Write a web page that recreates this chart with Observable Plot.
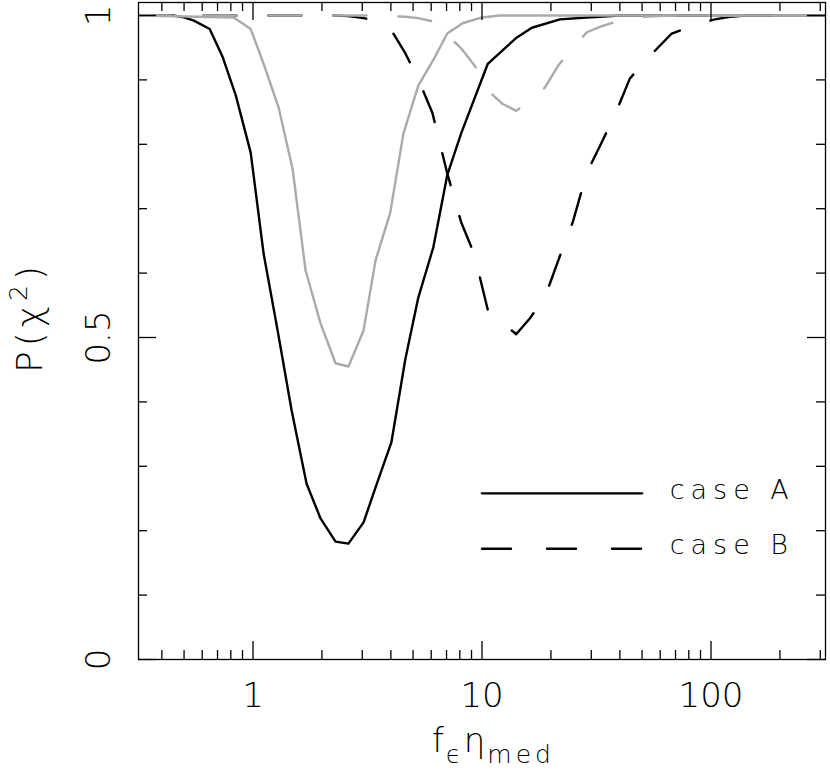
<!DOCTYPE html>
<html><head><meta charset="utf-8">
<script src="https://cdn.jsdelivr.net/npm/d3@7"></script>
<script src="https://cdn.jsdelivr.net/npm/@observablehq/plot@0.6"></script>
<style>body{margin:0;background:#fff}#chart{width:830px;height:772px}</style>
</head><body><div id="chart"></div>
<script>
// ---- data ----
const caseABlackX = [0.316, 0.447, 0.499, 0.552, 0.647, 0.738, 0.841, 0.977, 1.113, 1.281, 1.474, 1.714, 1.972, 2.293, 2.61, 3.04, 3.49, 4.02, 4.63, 5.27, 6.13, 7.05, 8.11, 10.6, 14.2, 16.5, 21.9, 28.7, 40, 316];
const caseABlackY = [1, 1, 0.997, 0.992, 0.979, 0.935, 0.876, 0.787, 0.630, 0.511, 0.387, 0.273, 0.219, 0.183, 0.180, 0.213, 0.275, 0.337, 0.467, 0.562, 0.640, 0.752, 0.817, 0.925, 0.966, 0.981, 0.994, 0.997, 1, 1];

const caseAGrayX = [0.316, 0.824, 0.977, 1.113, 1.294, 1.489, 1.697, 1.972, 2.293, 2.61, 3.04, 3.43, 3.97, 4.54, 5.27, 6.13, 7.05, 8.22, 10.0, 12.0, 316];
const caseAGrayY = [1, 0.997, 0.979, 0.925, 0.857, 0.762, 0.604, 0.522, 0.460, 0.455, 0.511, 0.620, 0.693, 0.817, 0.891, 0.931, 0.972, 0.988, 0.997, 1, 1];

const caseBBlackX = [0.316, 2.247, 2.61, 3.04, 3.49, 4.02, 4.63, 5.27, 6.07, 7.05, 8.11, 9.24, 10.6, 14.1, 16.2, 18.8, 21.7, 24.9, 28.7, 33.1, 38.1, 44.2, 50.9, 58.6, 67.4, 77.6, 89.3, 104, 121, 145, 316];
const caseBBlackY = [1, 1, 0.999, 0.996, 0.991, 0.977, 0.941, 0.901, 0.849, 0.755, 0.679, 0.630, 0.543, 0.505, 0.530, 0.562, 0.623, 0.679, 0.756, 0.801, 0.846, 0.902, 0.927, 0.950, 0.972, 0.980, 0.988, 0.994, 0.998, 1, 1];

const caseBGrayX = [0.316, 3.49, 4.63, 5.27, 6.07, 7.05, 8.11, 9.34, 10.6, 12.25, 14.1, 16.2, 18.8, 21.7, 24.9, 28.7, 33.1, 38.1, 44.2, 50.9, 58.6, 67.4, 316];
const caseBGrayY = [1, 1, 0.998, 0.996, 0.991, 0.970, 0.949, 0.921, 0.884, 0.863, 0.852, 0.867, 0.888, 0.924, 0.949, 0.974, 0.983, 0.990, 0.995, 0.998, 0.999, 1, 1];

const xMajorTicks = [1, 10, 100];
const xTickLabels = ["1", "10", "100"];
const xMinorTicks = [0.4, 0.5, 0.6, 0.7, 0.8, 0.9, 2, 3, 4, 5, 6, 7, 8, 9, 20, 30, 40, 50, 60, 70, 80, 90, 200, 300];
const yMajorTicks = [0, 0.5, 1];
const yTickLabels = ["0", "0.5", "1"];
const yMinorTicks = [0.1, 0.2, 0.3, 0.4, 0.6, 0.7, 0.8, 0.9];

const legendLabels = ["case A", "case B"];
const legendY = [0.258, 0.172];
const legendLineX = [10, 50];
const legendTextX = 66;

// ---- build ----
const W = 830, H = 772, mL = 138, mR = 5, mT = 2, mB = 113;
const iW = W - mL - mR, iH = H - mT - mB;
const GRAY = "#aaaaaa", DASH = "33,32", LW = 2.4;
const FONT = "DejaVu Sans";

const toRows = (xs, ys) => xs.map((x, i) => ({x, y: ys[i]}));
const seriesA = toRows(caseABlackX, caseABlackY);
const seriesAg = toRows(caseAGrayX, caseAGrayY);
const seriesB = toRows(caseBBlackX, caseBBlackY);
const seriesBg = toRows(caseBGrayX, caseBGrayY);
const legendA = legendLineX.map(x => ({x, y: legendY[0]}));
const legendB = legendLineX.map(x => ({x, y: legendY[1]}));

const tickStyle = {stroke: "#000", strokeWidth: 1.3};
const chart = Plot.plot({
  width: W, height: H,
  marginLeft: mL, marginRight: mR, marginTop: mT, marginBottom: mB,
  x: {type: "log", domain: [10 ** -0.5, 10 ** 2.5], axis: null},
  y: {domain: [0, iH / 644], axis: null},
  style: {fontFamily: FONT, background: "white", color: "#000"},
  marks: [
    // curves (black first, grey drawn on top)
    Plot.line(seriesA, {x: "x", y: "y", stroke: "#000", strokeWidth: LW, clip: true}),
    Plot.line(seriesB, {x: "x", y: "y", stroke: "#000", strokeWidth: LW, strokeDasharray: DASH, clip: true}),
    Plot.line(seriesAg, {x: "x", y: "y", stroke: GRAY, strokeWidth: LW, clip: true}),
    Plot.line(seriesBg, {x: "x", y: "y", stroke: GRAY, strokeWidth: LW, strokeDasharray: DASH, clip: true}),
    // inward ticks
    Plot.tickX(xMinorTicks, {x: d => d, insetTop: iH - 9, ...tickStyle}),
    Plot.tickX(xMajorTicks, {x: d => d, insetTop: iH - 18, ...tickStyle}),
    Plot.tickX(xMinorTicks, {x: d => d, insetBottom: iH - 9, ...tickStyle}),
    Plot.tickX(xMajorTicks, {x: d => d, insetBottom: iH - 18, ...tickStyle}),
    Plot.tickY(yMinorTicks, {y: d => d, insetRight: iW - 9, ...tickStyle}),
    Plot.tickY(yMajorTicks, {y: d => d, insetRight: iW - 18, ...tickStyle}),
    Plot.tickY(yMinorTicks, {y: d => d, insetLeft: iW - 9, ...tickStyle}),
    Plot.tickY(yMajorTicks, {y: d => d, insetLeft: iW - 18, ...tickStyle}),
    Plot.frame({stroke: "#000", strokeWidth: 1.3}),
    // tick labels
    Plot.text(xMajorTicks, {x: d => d, frameAnchor: "bottom", dy: 37, text: (d, i) => xTickLabels[i],
      lineAnchor: "middle", textAnchor: "middle", fontSize: 34, fontWeight: 200, fill: "#000"}),
    Plot.text(yMajorTicks, {y: d => d, frameAnchor: "left", dx: -39.5, rotate: -90, text: (d, i) => yTickLabels[i],
      lineAnchor: "middle", textAnchor: "middle", fontSize: 34, fontWeight: 200, fill: "#000"}),
    // legend
    Plot.line(legendA, {x: "x", y: "y", stroke: "#000", strokeWidth: LW}),
    Plot.line(legendB, {x: "x", y: "y", stroke: "#000", strokeWidth: LW, strokeDasharray: "29,36"}),
    Plot.text(legendLabels, {x: () => legendTextX, y: (d, i) => legendY[i], text: d => d, dy: -3,
      textAnchor: "start", lineAnchor: "middle", fontSize: 27, fontWeight: 200, fill: "#000"})
  ]
});
document.getElementById("chart").appendChild(chart);

// legend letter spacing (wide plotter font look)
const svg = d3.select(chart);
svg.selectAll("text").filter(function(){ return legendLabels.includes(this.textContent); })
  .style("letter-spacing", "6px");

// axis titles with sub/superscripts
const xl = svg.append("text").attr("x", 432).attr("y", 752).attr("text-anchor", "start")
  .attr("font-family", FONT).attr("font-weight", 200).attr("font-size", 34).attr("fill", "#000");
xl.append("tspan").text("f").attr("letter-spacing", 2);
xl.append("tspan").text("ϵ").attr("font-size", 24).attr("dy", 11).attr("letter-spacing", 3);
xl.append("tspan").text("η").attr("dy", -11).attr("letter-spacing", 2);
xl.append("tspan").text("med").attr("font-size", 25).attr("dy", 11).attr("letter-spacing", 4);

const yl = svg.append("text").attr("transform", "translate(42,373) rotate(-90)").attr("text-anchor", "start")
  .attr("font-family", FONT).attr("font-weight", 200).attr("font-size", 36).attr("fill", "#000")
  .attr("letter-spacing", 5);
yl.append("tspan").text("P(χ");
yl.append("tspan").text("2").attr("font-size", 25).attr("dy", -15);
yl.append("tspan").text(")").attr("dy", 15);
</script>
</body></html>
